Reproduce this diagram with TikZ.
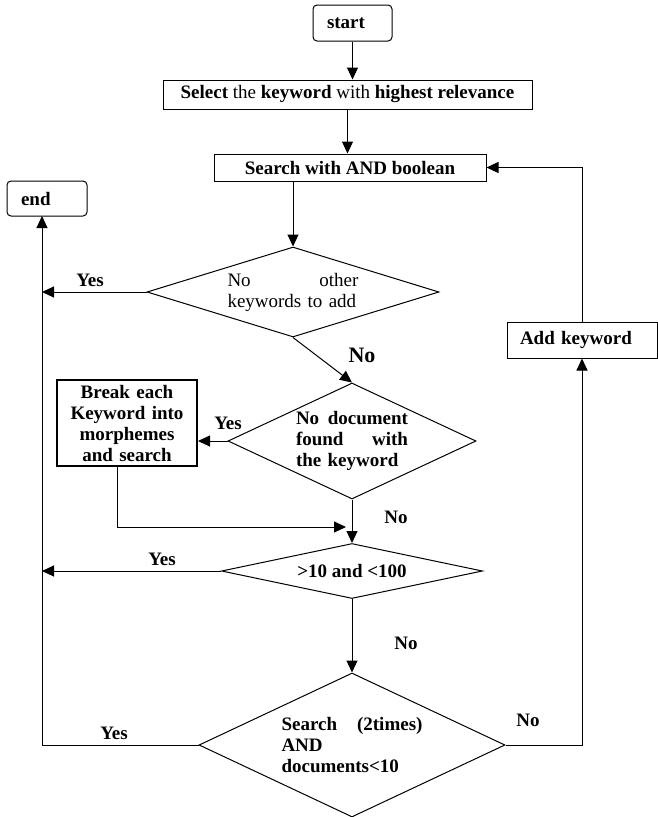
\documentclass[tikz,border=0pt]{standalone}
\usepackage{fontspec}
\setmainfont{Liberation Serif}
\usetikzlibrary{arrows.meta}
\usetikzlibrary{shapes.geometric,positioning}
\newcommand{\flowfont}{\fontsize{19}{21}\selectfont}
\tikzset{
    flowarrow/.style={
        line width=1pt,
        black,
        -{Triangle[length=12pt, width=11pt]}
    },
    % boxes and decisions
    plainbox/.style={draw, line width=1pt, rectangle, inner sep=0pt, font=\flowfont\bfseries},
    roundbox/.style={plainbox, rounded corners=4pt},
    decision/.style={draw, line width=1pt, diamond, inner sep=0pt, align=left},
    answer/.style={inner sep=0pt, font=\flowfont\bfseries}
}

\begin{document}
\begin{tikzpicture}[x=1pt,y=-1pt]
\useasboundingbox (0,0) rectangle (658,817);

% ===================== boxes =====================
\node[roundbox,minimum width=79pt,minimum height=36pt,text width=51pt,align=left] (start) at (352.5,23) {start};
\node[plainbox,minimum width=369pt,minimum height=29pt,font=\flowfont] (select) at (347.5,94.5)
    {\textbf{Select} the \textbf{keyword} with \textbf{highest relevance}};
\node[plainbox,minimum width=272pt,minimum height=27pt] (search) at (350,167.5) {Search with AND boolean};
\node[roundbox,minimum width=80pt,minimum height=35pt,text width=52pt,align=left] (endbox) at (47,198.5) {end};
\node[plainbox,line width=2pt,minimum width=140pt,minimum height=86pt,text width=130pt,align=center] (brk) at (127,423)
    {Break each\\Keyword into\\morphemes\\and search};
\node[plainbox,minimum width=150pt,minimum height=36pt,text width=124pt,align=left] (add) at (582,340) {Add keyword};

% ===================== decisions =====================
\node[decision,minimum width=292pt,minimum height=90pt,shape aspect=3.24,text width=131pt,font=\flowfont] (d1) at (293,292)
    {No\hfill other\\keywords to add};
\node[decision,minimum width=248pt,minimum height=116pt,shape aspect=2.14,text width=112pt,font=\flowfont\bfseries] (d2) at (352,441)
    {No\hfill document\\found\hfill with\\the keyword};
\node[decision,minimum width=261pt,minimum height=55pt,shape aspect=4.75,align=center,font=\flowfont\bfseries] (d3) at (352,571)
    {>10 and <100};
\node[decision,minimum width=306pt,minimum height=144pt,shape aspect=2.1,text width=141pt,font=\flowfont\bfseries] (d4) at (352,745)
    {Search\hfill (2times)\\AND\\documents<10};

% return line on the left, join point
\coordinate (rail) at (42,216);
\coordinate (join) at (346,527);

% ===================== arrows =====================
\draw[flowarrow] (start.south) -- (start.south |- select.north);
\draw[flowarrow] (select.south) -- (select.south |- search.north);
\draw[flowarrow] (d1.north |- search.south) -- (d1.north);
\draw[flowarrow] (d1.west) -- (d1.west -| rail);
\draw[flowarrow] (d1.south) -- (d2.north);
\draw[flowarrow] (d2.west) -- (d2.west -| brk.east);
\draw[flowarrow] ([xshift=-10pt]brk.south) |- (join);
\draw[flowarrow] (d2.south) -- (d3.north);
\draw[flowarrow] (d3.west) -- (d3.west -| rail);
\draw[flowarrow] (d3.south) -- (d4.north);
\draw[flowarrow] (d4.west) -| (rail);
\draw[flowarrow] (d4.east) -| (add.south);
\draw[flowarrow] (add.north) |- (search.east);

% ===================== labels =====================
\node[answer] (yes1) at (90,280) {Yes};
\node[answer,font=\fontsize{22}{24}\selectfont\bfseries] (no1) at (362,355) {No};
\node[answer] (yes2) at (228,423) {Yes};
\node[answer] (no2) at (396,517) {No};
\node[answer] (yes3) at (162,559) {Yes};
\node[answer] (no3) at (406,643) {No};
\node[answer] (yes4) at (114,733) {Yes};
\node[answer] (no4) at (528,720) {No};

\end{tikzpicture}
\end{document}
